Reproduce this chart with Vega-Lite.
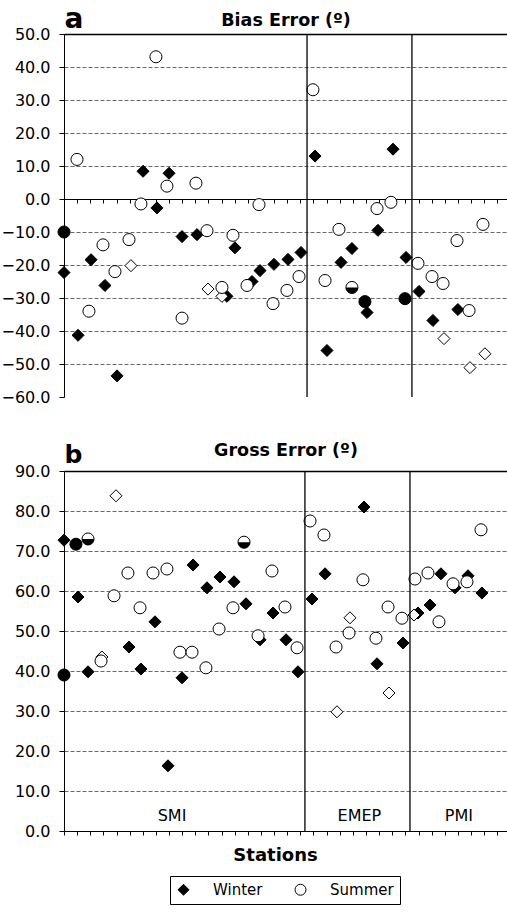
{
  "$schema": "https://vega.github.io/schema/vega-lite/v6.json",
  "padding": {"left": 0, "top": 5, "right": 0, "bottom": 0},
  "config": {
    "font": "DejaVu Sans",
    "view": {"stroke": null},
    "axis": {"labelFont": "DejaVu Sans", "titleFont": "DejaVu Sans", "labelColor": "black", "titleColor": "black", "domainColor": "black", "tickColor": "black", "domainWidth": 1, "tickWidth": 1}
  },
  "datasets": {
    "bias": [
      {"station": 0, "error": -22.3, "season": "Winter"},
      {"station": 1.07, "error": -41.3, "season": "Winter"},
      {"station": 2.06, "error": -18.4, "season": "Winter"},
      {"station": 3.12, "error": -26.2, "season": "Winter"},
      {"station": 4.04, "error": -53.6, "season": "Winter"},
      {"station": 6.02, "error": 8.4, "season": "Winter"},
      {"station": 7.08, "error": -2.7, "season": "Winter"},
      {"station": 8.0, "error": 7.8, "season": "Winter"},
      {"station": 8.99, "error": -11.4, "season": "Winter"},
      {"station": 10.13, "error": -10.8, "season": "Winter"},
      {"station": 12.41, "error": -29.5, "season": "Winter"},
      {"station": 13.02, "error": -14.8, "season": "Winter"},
      {"station": 14.32, "error": -25.0, "season": "Winter"},
      {"station": 14.93, "error": -21.7, "season": "Winter"},
      {"station": 15.99, "error": -19.8, "season": "Winter"},
      {"station": 17.06, "error": -18.3, "season": "Winter"},
      {"station": 18.05, "error": -16.2, "season": "Winter"},
      {"station": 19.12, "error": 13.0, "season": "Winter"},
      {"station": 20.03, "error": -45.9, "season": "Winter"},
      {"station": 21.1, "error": -19.2, "season": "Winter"},
      {"station": 21.93, "error": -15.0, "season": "Winter"},
      {"station": 23.08, "error": -34.4, "season": "Winter"},
      {"station": 23.91, "error": -9.5, "season": "Winter"},
      {"station": 25.06, "error": 15.1, "season": "Winter"},
      {"station": 26.05, "error": -17.7, "season": "Winter"},
      {"station": 27.04, "error": -28.0, "season": "Winter"},
      {"station": 28.1, "error": -36.8, "season": "Winter"},
      {"station": 30.0, "error": -33.5, "season": "Winter"},
      {"station": 5.1, "error": -20.2, "season": "Winter alt"},
      {"station": 10.97, "error": -27.3, "season": "Winter alt"},
      {"station": 12.03, "error": -29.5, "season": "Winter alt"},
      {"station": 28.94, "error": -42.3, "season": "Winter alt"},
      {"station": 30.92, "error": -51.1, "season": "Winter alt"},
      {"station": 32.06, "error": -46.9, "season": "Winter alt"},
      {"station": 0.99, "error": 12.0, "season": "Summer"},
      {"station": 1.9, "error": -34.0, "season": "Summer"},
      {"station": 2.97, "error": -13.9, "season": "Summer"},
      {"station": 3.88, "error": -22.0, "season": "Summer"},
      {"station": 4.95, "error": -12.3, "season": "Summer"},
      {"station": 5.86, "error": -1.5, "season": "Summer"},
      {"station": 7.0, "error": 43.1, "season": "Summer"},
      {"station": 7.84, "error": 3.9, "season": "Summer"},
      {"station": 8.99, "error": -36.1, "season": "Summer"},
      {"station": 10.05, "error": 4.8, "season": "Summer"},
      {"station": 10.89, "error": -9.6, "season": "Summer"},
      {"station": 12.03, "error": -26.8, "season": "Summer"},
      {"station": 12.87, "error": -11.0, "season": "Summer"},
      {"station": 13.94, "error": -26.2, "season": "Summer"},
      {"station": 14.85, "error": -1.7, "season": "Summer"},
      {"station": 15.92, "error": -31.7, "season": "Summer"},
      {"station": 16.98, "error": -27.7, "season": "Summer"},
      {"station": 17.9, "error": -23.5, "season": "Summer"},
      {"station": 18.96, "error": 33.1, "season": "Summer"},
      {"station": 19.88, "error": -24.7, "season": "Summer"},
      {"station": 20.94, "error": -9.2, "season": "Summer"},
      {"station": 23.84, "error": -2.9, "season": "Summer"},
      {"station": 24.9, "error": -1.0, "season": "Summer"},
      {"station": 26.96, "error": -19.5, "season": "Summer"},
      {"station": 28.03, "error": -23.5, "season": "Summer"},
      {"station": 28.87, "error": -25.6, "season": "Summer"},
      {"station": 29.93, "error": -12.6, "season": "Summer"},
      {"station": 30.85, "error": -33.8, "season": "Summer"},
      {"station": 31.91, "error": -7.7, "season": "Summer"},
      {"station": 0, "error": -10.0, "season": "Summer alt"},
      {"station": 22.92, "error": -31.1, "season": "Summer alt"},
      {"station": 25.97, "error": -30.2, "season": "Summer alt"},
      {"station": 21.93, "error": -26.8, "season": "Summer half"}
    ],
    "gross": [
      {"station": 0, "error": 72.7, "season": "Winter"},
      {"station": 1.07, "error": 58.5, "season": "Winter"},
      {"station": 1.83, "error": 39.8, "season": "Winter"},
      {"station": 4.95, "error": 46.0, "season": "Winter"},
      {"station": 5.86, "error": 40.5, "season": "Winter"},
      {"station": 6.93, "error": 52.3, "season": "Winter"},
      {"station": 7.92, "error": 16.3, "season": "Winter"},
      {"station": 8.99, "error": 38.3, "season": "Winter"},
      {"station": 9.83, "error": 66.5, "season": "Winter"},
      {"station": 10.89, "error": 60.8, "season": "Winter"},
      {"station": 11.88, "error": 63.5, "season": "Winter"},
      {"station": 12.95, "error": 62.3, "season": "Winter"},
      {"station": 13.86, "error": 56.8, "season": "Winter"},
      {"station": 14.93, "error": 47.8, "season": "Winter"},
      {"station": 15.92, "error": 54.5, "season": "Winter"},
      {"station": 16.91, "error": 47.8, "season": "Winter"},
      {"station": 17.82, "error": 39.8, "season": "Winter"},
      {"station": 18.89, "error": 58.0, "season": "Winter"},
      {"station": 19.88, "error": 64.3, "season": "Winter"},
      {"station": 22.85, "error": 81.0, "season": "Winter"},
      {"station": 23.84, "error": 41.8, "season": "Winter"},
      {"station": 25.82, "error": 47.0, "season": "Winter"},
      {"station": 26.96, "error": 54.5, "season": "Winter"},
      {"station": 27.88, "error": 56.5, "season": "Winter"},
      {"station": 28.71, "error": 64.3, "season": "Winter"},
      {"station": 29.78, "error": 60.8, "season": "Winter"},
      {"station": 30.77, "error": 63.8, "season": "Winter"},
      {"station": 31.83, "error": 59.5, "season": "Winter"},
      {"station": 2.89, "error": 43.5, "season": "Winter alt"},
      {"station": 3.96, "error": 83.8, "season": "Winter alt"},
      {"station": 20.79, "error": 29.8, "season": "Winter alt"},
      {"station": 21.78, "error": 53.3, "season": "Winter alt"},
      {"station": 24.75, "error": 34.5, "season": "Winter alt"},
      {"station": 26.66, "error": 54.0, "season": "Winter alt"},
      {"station": 2.82, "error": 42.5, "season": "Summer"},
      {"station": 3.81, "error": 58.8, "season": "Summer"},
      {"station": 4.87, "error": 64.5, "season": "Summer"},
      {"station": 5.79, "error": 55.8, "season": "Summer"},
      {"station": 6.78, "error": 64.5, "season": "Summer"},
      {"station": 7.84, "error": 65.5, "season": "Summer"},
      {"station": 8.83, "error": 44.7, "season": "Summer"},
      {"station": 9.75, "error": 44.7, "season": "Summer"},
      {"station": 10.81, "error": 40.8, "season": "Summer"},
      {"station": 11.81, "error": 50.5, "season": "Summer"},
      {"station": 12.87, "error": 55.8, "season": "Summer"},
      {"station": 14.78, "error": 48.8, "season": "Summer"},
      {"station": 15.84, "error": 65.0, "season": "Summer"},
      {"station": 16.83, "error": 56.0, "season": "Summer"},
      {"station": 17.75, "error": 45.8, "season": "Summer"},
      {"station": 18.74, "error": 77.5, "season": "Summer"},
      {"station": 19.8, "error": 74.0, "season": "Summer"},
      {"station": 20.72, "error": 46.0, "season": "Summer"},
      {"station": 21.71, "error": 49.5, "season": "Summer"},
      {"station": 22.77, "error": 62.8, "season": "Summer"},
      {"station": 23.76, "error": 48.2, "season": "Summer"},
      {"station": 24.68, "error": 56.0, "season": "Summer"},
      {"station": 25.74, "error": 53.2, "season": "Summer"},
      {"station": 26.73, "error": 63.0, "season": "Summer"},
      {"station": 27.72, "error": 64.5, "season": "Summer"},
      {"station": 28.56, "error": 52.3, "season": "Summer"},
      {"station": 29.63, "error": 61.8, "season": "Summer"},
      {"station": 30.69, "error": 62.3, "season": "Summer"},
      {"station": 31.76, "error": 75.3, "season": "Summer"},
      {"station": 0, "error": 39.0, "season": "Summer alt"},
      {"station": 0.91, "error": 71.7, "season": "Summer alt"},
      {"station": 1.83, "error": 73.0, "season": "Summer half"},
      {"station": 13.71, "error": 72.2, "season": "Summer half"}
    ],
    "boundsA": [{"boundary": 18.51}, {"boundary": 26.5}],
    "boundsB": [{"boundary": 18.35}, {"boundary": 26.35}],
    "groups": [
      {"network": "SMI", "center": 8.23},
      {"network": "EMEP", "center": 22.5},
      {"network": "PMI", "center": 30.08}
    ]
  },
  "spacing": 36,
  "resolve": {"scale": {"shape": "independent", "fill": "independent"}, "legend": {"shape": "independent", "fill": "independent"}},
  "vconcat": [
    {
      "width": 443,
      "height": 363,
      "resolve": {"axis": {"x": "independent"}},
      "layer": [
        {
          "data": {"name": "bias"},
          "mark": {"type": "point", "stroke": "black", "strokeWidth": 1, "opacity": 1, "size": 145},
          "encoding": {
            "x": {"field": "station", "type": "quantitative", "scale": {"domain": [0, 33.74], "nice": false, "zero": false},
              "axis": {"orient": "bottom", "offset": -198, "values": [0,1,2,3,4,5,6,7,8,9,10,11,12,13,14,15,16,17,18,19,20,21,22,23,24,25,26,27,28,29,30,31,32,33], "labels": false, "tickSize": 4, "grid": false, "title": null}},
            "y": {"field": "error", "type": "quantitative", "scale": {"domain": [-60, 50], "nice": false, "zero": false},
              "axis": {"values": [-60,-50,-40,-30,-20,-10,0,10,20,30,40,50], "labelOverlap": false, "format": ".1f", "labelFontSize": 16, "labelPadding": 9, "tickSize": 5, "grid": true, "gridDash": [4, 2], "gridColor": "#6a6a6a", "gridOpacity": {"condition": {"test": "datum.value === -60", "value": 0}, "value": 1}, "minExtent": 64, "maxExtent": 64, "title": "a", "titleAngle": 0, "titleFontSize": 28, "titleFontWeight": "bold", "titleX": 0, "titleY": -7, "titleAlign": "left", "titleBaseline": "alphabetic"}},
            "shape": {"field": "season", "type": "nominal", "scale": {"domain": ["Winter", "Summer", "Winter alt", "Summer alt", "Summer half"], "range": ["diamond", "circle", "diamond", "circle", "circle"]}, "legend": null},
            "fill": {"field": "season", "type": "nominal", "scale": {"domain": ["Winter", "Summer", "Winter alt", "Summer alt", "Summer half"], "range": ["black", "white", "white", "black", "white"]}, "legend": null}
          }
        },
        {
          "data": {"name": "bias"},
          "transform": [{"filter": "datum.season === 'Summer half'"}],
          "mark": {"type": "point", "shape": "M-1,0A1,1,0,0,0,1,0Z", "filled": true, "fill": "black", "strokeWidth": 0, "opacity": 1, "size": 145},
          "encoding": {
            "x": {"field": "station", "type": "quantitative", "axis": null},
            "y": {"field": "error", "type": "quantitative",
              "axis": {"values": [-60,-50,-40,-30,-20,-10,0,10,20,30,40,50], "labelOverlap": false, "format": ".1f", "labelFontSize": 16, "labelPadding": 9, "tickSize": 5, "grid": true, "gridDash": [4, 2], "gridColor": "#6a6a6a", "gridOpacity": {"condition": {"test": "datum.value === -60", "value": 0}, "value": 1}, "minExtent": 64, "maxExtent": 64, "title": "a", "titleAngle": 0, "titleFontSize": 28, "titleFontWeight": "bold", "titleX": 0, "titleY": -7, "titleAlign": "left", "titleBaseline": "alphabetic"}}
          }
        },
        {
          "data": {"name": "boundsA"},
          "mark": {"type": "rule", "color": "black", "strokeWidth": 1.3},
          "encoding": {
            "x": {"field": "boundary", "type": "quantitative",
              "axis": {"orient": "top", "values": [], "labels": false, "ticks": false, "grid": false, "domain": true, "domainWidth": 1.3, "title": "Bias Error (º)", "titleFontSize": 17.5, "titleFontWeight": "bold", "titleX": 221.5, "titleY": -9, "titleAlign": "center", "titleBaseline": "alphabetic"}}
          }
        }
      ]
    },
    {
      "width": 443,
      "height": 360,
      "resolve": {"axis": {"x": "independent"}},
      "layer": [
        {
          "data": {"name": "gross"},
          "mark": {"type": "point", "stroke": "black", "strokeWidth": 1, "opacity": 1, "size": 145},
          "encoding": {
            "x": {"field": "station", "type": "quantitative", "scale": {"domain": [0, 33.74], "nice": false, "zero": false},
              "axis": {"orient": "bottom", "values": [0,1,2,3,4,5,6,7,8,9,10,11,12,13,14,15,16,17,18,19,20,21,22,23,24,25,26,27,28,29,30,31,32,33], "labels": false, "tickSize": 4, "grid": false, "title": "Stations", "titleFontSize": 18, "titleFontWeight": "bold", "titleX": 211, "titleY": 29, "titleAlign": "center", "titleBaseline": "alphabetic"}},
            "y": {"field": "error", "type": "quantitative", "scale": {"domain": [0, 90], "nice": false, "zero": false},
              "axis": {"values": [0,10,20,30,40,50,60,70,80,90], "labelOverlap": false, "format": ".1f", "labelFontSize": 16, "labelPadding": 9, "tickSize": 5, "grid": true, "gridDash": [4, 2], "gridColor": "#6a6a6a", "minExtent": 64, "maxExtent": 64, "title": "b", "titleAngle": 0, "titleFontSize": 25, "titleFontWeight": "bold", "titleX": 0, "titleY": -9, "titleAlign": "left", "titleBaseline": "alphabetic"}},
            "shape": {"field": "season", "type": "nominal", "scale": {"domain": ["Winter", "Summer", "Winter alt", "Summer alt", "Summer half"], "range": ["diamond", "circle", "diamond", "circle", "circle"]},
              "legend": {"values": ["Winter", "Summer"], "title": null, "orient": "none", "legendX": 106, "legendY": 405, "direction": "horizontal", "strokeColor": "black", "padding": 6, "labelFontSize": 15, "labelFont": "DejaVu Sans", "labelColor": "black", "labelOffset": 22, "columnPadding": 30, "symbolSize": 120, "symbolStrokeColor": "black", "symbolStrokeWidth": 1, "symbolOpacity": 1,
                "encode": {"symbols": {"update": {"stroke": {"value": "black"}, "strokeWidth": {"value": 1}, "opacity": {"value": 1}}}}}},
            "fill": {"field": "season", "type": "nominal", "scale": {"domain": ["Winter", "Summer", "Winter alt", "Summer alt", "Summer half"], "range": ["black", "white", "white", "black", "white"]},
              "legend": {"values": ["Winter", "Summer"], "title": null, "orient": "none", "legendX": 106, "legendY": 405, "direction": "horizontal", "strokeColor": "black", "padding": 6, "labelFontSize": 15, "labelFont": "DejaVu Sans", "labelColor": "black", "labelOffset": 22, "columnPadding": 30, "symbolSize": 120, "symbolStrokeColor": "black", "symbolStrokeWidth": 1, "symbolOpacity": 1,
                "encode": {"symbols": {"update": {"stroke": {"value": "black"}, "strokeWidth": {"value": 1}, "opacity": {"value": 1}}}}}}
          }
        },
        {
          "data": {"name": "gross"},
          "transform": [{"filter": "datum.season === 'Summer half'"}],
          "mark": {"type": "point", "shape": "M-1,0A1,1,0,0,0,1,0Z", "filled": true, "fill": "black", "strokeWidth": 0, "opacity": 1, "size": 145},
          "encoding": {
            "x": {"field": "station", "type": "quantitative", "axis": null},
            "y": {"field": "error", "type": "quantitative",
              "axis": {"values": [0,10,20,30,40,50,60,70,80,90], "labelOverlap": false, "format": ".1f", "labelFontSize": 16, "labelPadding": 9, "tickSize": 5, "grid": true, "gridDash": [4, 2], "gridColor": "#6a6a6a", "minExtent": 64, "maxExtent": 64, "title": "b", "titleAngle": 0, "titleFontSize": 25, "titleFontWeight": "bold", "titleX": 0, "titleY": -9, "titleAlign": "left", "titleBaseline": "alphabetic"}}
          }
        },
        {
          "data": {"name": "groups"},
          "mark": {"type": "text", "fontSize": 16, "font": "DejaVu Sans", "color": "black", "baseline": "alphabetic", "align": "center"},
          "encoding": {
            "x": {"field": "center", "type": "quantitative", "axis": null},
            "y": {"datum": 2.6,
              "axis": {"values": [0,10,20,30,40,50,60,70,80,90], "labelOverlap": false, "format": ".1f", "labelFontSize": 16, "labelPadding": 9, "tickSize": 5, "grid": true, "gridDash": [4, 2], "gridColor": "#6a6a6a", "minExtent": 64, "maxExtent": 64, "title": "b", "titleAngle": 0, "titleFontSize": 25, "titleFontWeight": "bold", "titleX": 0, "titleY": -9, "titleAlign": "left", "titleBaseline": "alphabetic"}},
            "text": {"field": "network"}
          }
        },
        {
          "data": {"name": "boundsB"},
          "mark": {"type": "rule", "color": "black", "strokeWidth": 1.3},
          "encoding": {
            "x": {"field": "boundary", "type": "quantitative",
              "axis": {"orient": "top", "values": [], "labels": false, "ticks": false, "grid": false, "domain": true, "domainWidth": 1.3, "title": "Gross Error (º)", "titleFontSize": 17.5, "titleFontWeight": "bold", "titleX": 221.5, "titleY": -16, "titleAlign": "center", "titleBaseline": "alphabetic"}}
          }
        }
      ]
    }
  ]
}
